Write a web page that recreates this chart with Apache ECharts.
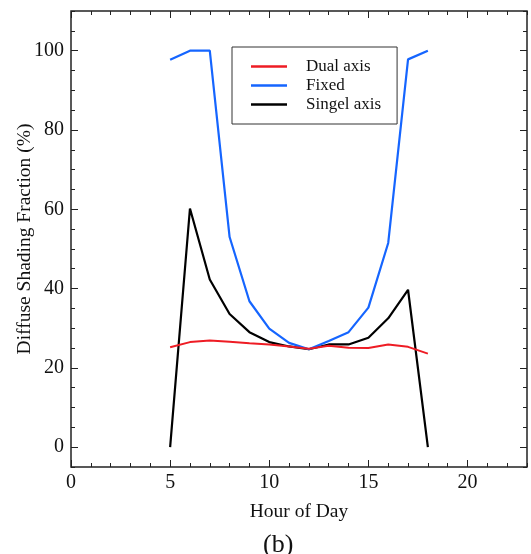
<!DOCTYPE html>
<html><head><meta charset="utf-8">
<script src="https://cdn.jsdelivr.net/npm/echarts@6/dist/echarts.min.js"></script>
<style>html,body{margin:0;padding:0;background:#fff}#c{width:531px;height:554px}</style>
</head><body><div id="c"></div>
<script>
const hours = [5,6,7,8,9,10,11,12,13,14,15,16,17,18];
const dualAxis = [25.2,26.5,26.9,26.6,26.2,25.9,25.4,24.8,25.6,25.1,25.0,25.9,25.3,23.6];
const fixed = [97.7,100,100,53,36.8,29.9,26.3,24.7,26.8,29,35.2,51.5,97.8,100];
const singelAxis = [0,60.2,42.3,33.6,29,26.5,25.4,24.7,25.9,25.9,27.6,32.5,39.7,0];
const yTicks = [0,20,40,60,80,100];
const xTicks = [0,5,10,15,20];
const seriesNames = ['Dual axis','Fixed','Singel axis'];
const colors = ['#ee1c24','#1565ff','#000000'];

const font = 'Liberation Serif, Times New Roman, serif';
const pair = arr => hours.map((h,i)=>[h,arr[i]]);
const noLine = {show:false,onZero:false};
const baseX = {type:'value',min:0,max:23,splitLine:{show:false},axisLine:noLine,axisLabel:{show:false}};
const baseY = {type:'value',min:-5,max:110,splitLine:{show:false},axisLine:noLine,axisLabel:{show:false}};
const tk = '#222';
const chart = echarts.init(document.getElementById('c'));
chart.setOption({
  animation:false,
  grid:{left:71,top:11,right:4,bottom:87,show:true,borderColor:'#222',borderWidth:1.5,containLabel:false,outerBoundsMode:'none'},
  xAxis:[
    Object.assign({},baseX,{position:'bottom',name:'Hour of Day',nameLocation:'middle',nameGap:35,nameMoveOverlap:false,
      nameTextStyle:{fontFamily:font,fontSize:19.5,color:'#111'},
      axisLabel:{show:true,customValues:xTicks,fontFamily:font,fontSize:20,color:'#111',margin:6},
      axisTick:{show:true,inside:true,length:7,customValues:xTicks,lineStyle:{color:tk}}}),
    Object.assign({},baseX,{position:'bottom',interval:1,axisTick:{show:true,inside:true,length:4,lineStyle:{color:tk}}}),
    Object.assign({},baseX,{position:'top',axisTick:{show:true,inside:true,length:7,customValues:xTicks,lineStyle:{color:tk}}}),
    Object.assign({},baseX,{position:'top',interval:1,axisTick:{show:true,inside:true,length:4,lineStyle:{color:tk}}})
  ],
  yAxis:[
    Object.assign({},baseY,{position:'left',name:'Diffuse Shading Fraction (%)',nameLocation:'middle',nameGap:36,nameMoveOverlap:false,
      nameTextStyle:{fontFamily:font,fontSize:19.5,color:'#111'},
      axisLabel:{show:true,customValues:yTicks,fontFamily:font,fontSize:20,color:'#111',margin:7},
      axisTick:{show:true,inside:true,length:7,customValues:yTicks,lineStyle:{color:tk}}}),
    Object.assign({},baseY,{position:'left',interval:5,axisTick:{show:true,inside:true,length:4,lineStyle:{color:tk}}}),
    Object.assign({},baseY,{position:'right',axisTick:{show:true,inside:true,length:7,customValues:yTicks,lineStyle:{color:tk}}}),
    Object.assign({},baseY,{position:'right',interval:5,axisTick:{show:true,inside:true,length:4,lineStyle:{color:tk}}})
  ],
  legend:{
    orient:'vertical',left:232,top:47,
    data:seriesNames,
    icon:'rect',itemWidth:36,itemHeight:2.5,itemGap:2,
    padding:[11,16,11,19],
    borderColor:'#333',borderWidth:1,
    textStyle:{fontFamily:font,fontSize:17,color:'#111',padding:[0,0,0,14],width:80}
  },
  graphic:[{type:'text',left:263,top:532,style:{text:'(b)',font:'26px '+font,fill:'#111'},z:10}],
  series:[
    {name:seriesNames[0],type:'line',data:pair(dualAxis),symbol:'none',lineStyle:{width:2,color:colors[0]},itemStyle:{color:colors[0]},z:3},
    {name:seriesNames[1],type:'line',data:pair(fixed),symbol:'none',lineStyle:{width:2.2,color:colors[1]},itemStyle:{color:colors[1]},z:2},
    {name:seriesNames[2],type:'line',data:pair(singelAxis),symbol:'none',lineStyle:{width:2.2,color:colors[2]},itemStyle:{color:colors[2]},z:1}
  ]
});
</script></body></html>
